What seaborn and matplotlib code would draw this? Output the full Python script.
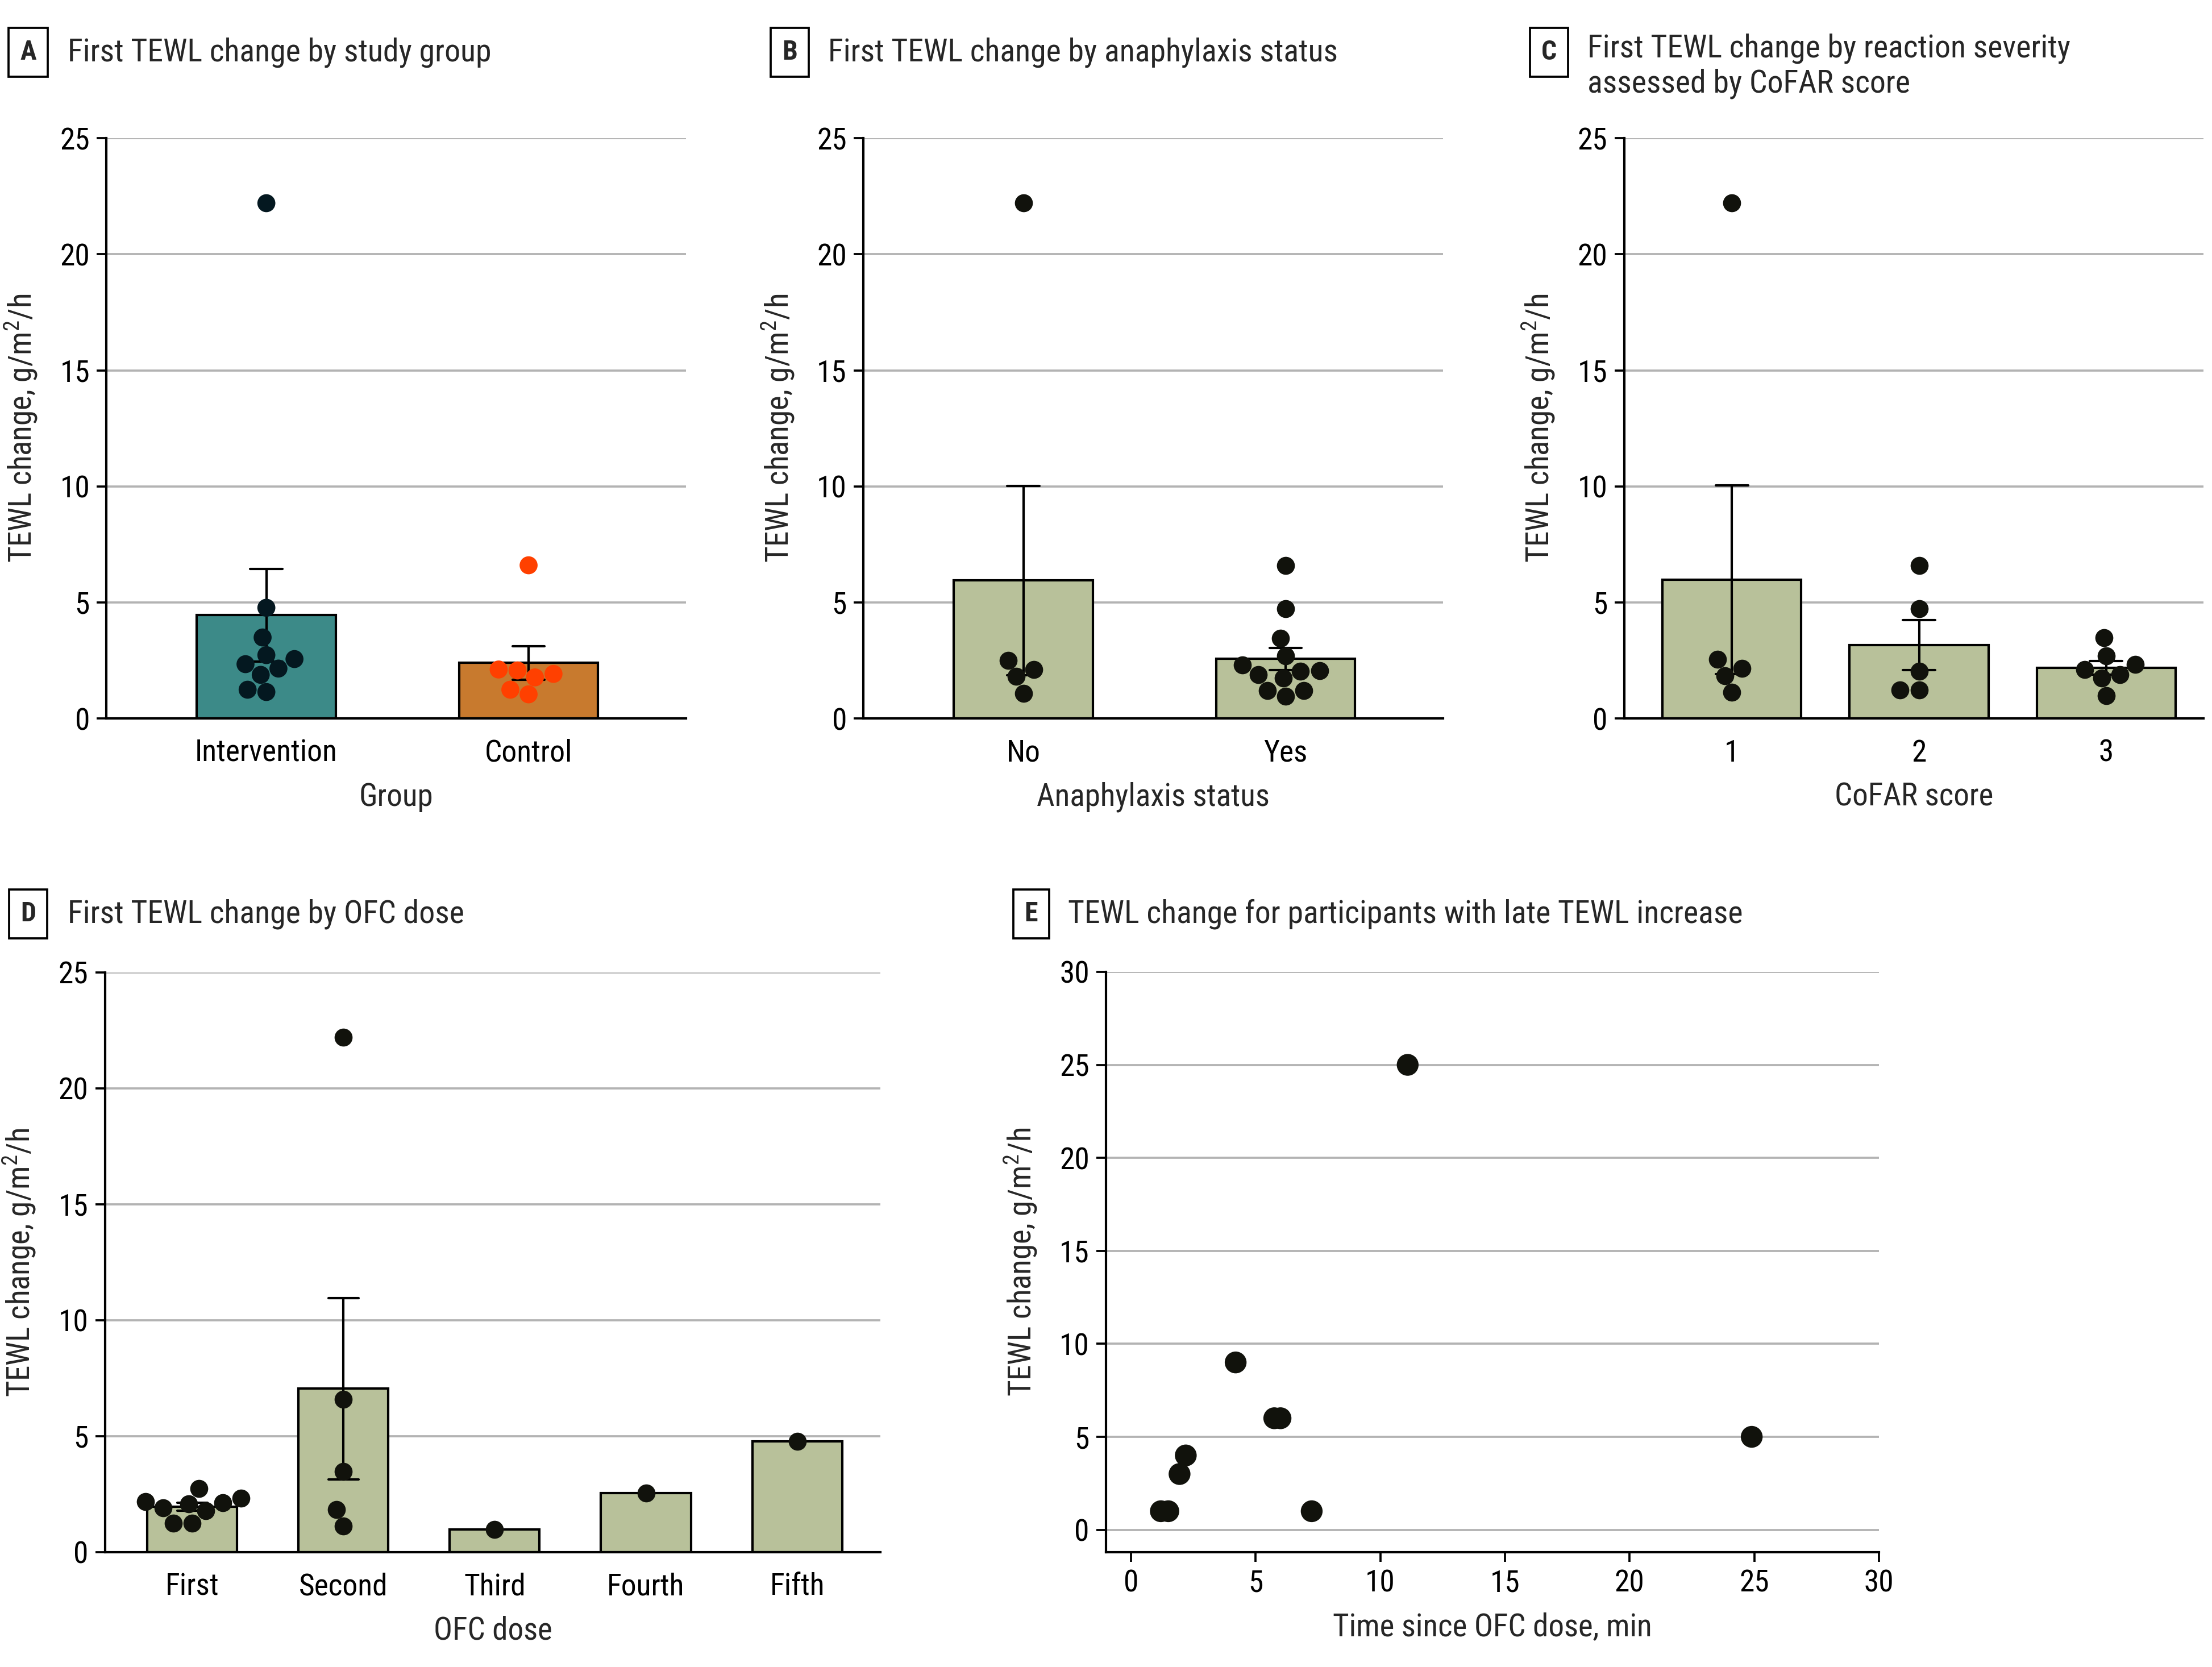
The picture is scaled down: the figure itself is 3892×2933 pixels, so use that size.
import numpy as np
import pandas as pd
import matplotlib
matplotlib.use("Agg")
import matplotlib.pyplot as plt
import seaborn as sns

# data (TEWL change, g/m2/h)
study_groups = ["Intervention", "Control"]
intervention_vals = [22.2, 4.77, 3.49, 2.56, 2.34, 2.15, 1.14, 1.24, 2.73, 1.88]
control_vals = [6.6, 2.11, 2.07, 1.77, 1.92, 1.04, 1.24]

anaph_groups = ["No", "Yes"]
anaph_no_vals = [22.2, 2.51, 1.09, 2.12, 1.81]
anaph_yes_vals = [6.58, 4.72, 3.45, 2.30, 1.73, 0.96, 2.06, 1.20, 2.04, 1.20, 2.70, 1.88]

cofar_groups = ["1", "2", "3"]
cofar1_vals = [22.2, 2.55, 1.12, 2.15, 1.84]
cofar2_vals = [6.58, 4.74, 2.04, 1.23, 1.23]
cofar3_vals = [3.47, 2.34, 1.88, 0.99, 2.10, 2.70, 1.74]

dose_groups = ["First", "Second", "Third", "Fourth", "Fifth"]
dose_first_vals = [2.09, 2.33, 2.74, 2.13, 1.90, 1.78, 2.17, 1.25, 1.25]
dose_second_vals = [22.2, 6.6, 3.47, 1.84, 1.12]
dose_third_vals = [0.98]
dose_fourth_vals = [2.54]
dose_fifth_vals = [4.77]

late_time = [1.2, 1.5, 1.95, 2.2, 4.2, 5.75, 6.0, 7.25, 11.1, 24.9]
late_change = [1, 1, 3, 4, 9, 6, 6, 1, 25, 5]


def long_df(names, lists):
    return pd.DataFrame({
        "grp": [n for n, v in zip(names, lists) for _ in v],
        "val": [x for v in lists for x in v],
    })


dfA = long_df(study_groups, [intervention_vals, control_vals])
dfB = long_df(anaph_groups, [anaph_no_vals, anaph_yes_vals])
dfC = long_df(cofar_groups, [cofar1_vals, cofar2_vals, cofar3_vals])
dfD = long_df(dose_groups, [dose_first_vals, dose_second_vals, dose_third_vals,
                            dose_fourth_vals, dose_fifth_vals])
dfE = pd.DataFrame({"time": late_time, "change": late_change})

sns.set_style("white")
plt.rcParams["font.family"] = ["Roboto Condensed", "Noto Sans Condensed", "Roboto", "DejaVu Sans"]
plt.rcParams["mathtext.default"] = "regular"

BAR_GREEN = "#B8C19A"
DOT = "#11120C"
GRID = "#B3B3B3"
YLAB = "TEWL change, g/m$^{2}$/h"
TICK_FS = 12.8
LABEL_FS = 13.2
TITLE_FS = 13.4

fig = plt.figure(figsize=(3892 / 300, 2933 / 300), dpi=300)


def style_axis(ax, xlabel, yticks):
    ax.set_axisbelow(True)
    ax.yaxis.grid(True, color=GRID, linewidth=0.9)
    ax.xaxis.grid(False)
    for s in ["top", "right"]:
        ax.spines[s].set_visible(False)
    for s in ["left", "bottom"]:
        ax.spines[s].set_color("black")
        ax.spines[s].set_linewidth(1.0)
    ax.set_yticks(yticks)
    ax.tick_params(axis="y", left=True, length=4, width=0.9, pad=3,
                   labelsize=TICK_FS, colors="black")
    ax.set_xlabel(xlabel, fontsize=LABEL_FS, labelpad=6)
    ax.set_ylabel(YLAB, fontsize=LABEL_FS, labelpad=9)


def bar_panel(rect, df, order, xlabel, width, capsize, xlim,
              bar_colors=None, dot_colors=None):
    ax = fig.add_axes(rect)
    if bar_colors is None:
        sns.barplot(data=df, x="grp", y="val", order=order, color=BAR_GREEN,
                    saturation=1, width=width, errorbar="se", capsize=capsize,
                    edgecolor="black", linewidth=1.0,
                    err_kws={"color": "black", "linewidth": 1.0}, ax=ax)
        sns.swarmplot(data=df, x="grp", y="val", order=order, color=DOT,
                      size=7.6, linewidth=0, ax=ax)
    else:
        sns.barplot(data=df, x="grp", y="val", order=order, hue="grp",
                    hue_order=order, palette=bar_colors, legend=False,
                    saturation=1, width=width, errorbar="se", capsize=capsize,
                    edgecolor="black", linewidth=1.0,
                    err_kws={"color": "black", "linewidth": 1.0}, ax=ax)
        sns.swarmplot(data=df, x="grp", y="val", order=order, hue="grp",
                      hue_order=order, palette=dot_colors, legend=False,
                      size=7.6, linewidth=0, ax=ax)
    ax.set_ylim(0, 25)
    ax.set_xlim(*xlim)
    style_axis(ax, xlabel, [0, 5, 10, 15, 20, 25])
    ax.tick_params(axis="x", bottom=False, pad=5, labelsize=TICK_FS, colors="black")
    return ax


# A
bar_panel([0.0481, 0.569, 0.262, 0.3481], dfA, study_groups, "Group",
          0.53, 0.123, (-0.61, 1.60),
          bar_colors=["#3C8A88", "#C87A2E"], dot_colors=["#041820", "#FF4000"])
# B
bar_panel([0.3903, 0.569, 0.262, 0.3481], dfB, anaph_groups, "Anaphylaxis status",
          0.53, 0.123, (-0.61, 1.60))
# C
bar_panel([0.7342, 0.569, 0.262, 0.3481], dfC, cofar_groups, "CoFAR score",
          0.742, 0.173, (-0.576, 2.52))
# D
bar_panel([0.0475, 0.0689, 0.3505, 0.3478], dfD, dose_groups, "OFC dose",
          0.594, 0.2, (-0.576, 4.55))

# E
axE = fig.add_axes([0.5000, 0.0689, 0.3494, 0.3481])
sns.scatterplot(data=dfE, x="time", y="change", s=85, color=DOT,
                edgecolor="none", ax=axE)
axE.set_xlim(-1, 30)
axE.set_ylim(-1.2, 30)
axE.set_xticks([0, 5, 10, 15, 20, 25, 30])
style_axis(axE, "Time since OFC dose, min", [0, 5, 10, 15, 20, 25, 30])
axE.tick_params(axis="x", bottom=True, length=4, width=0.9, pad=3,
                labelsize=TICK_FS, colors="black")

# panel headings
heads = [
    (0.01276, 0.0306, 0.9687, "A", "First TEWL change by study group"),
    (0.3571, 0.3744, 0.9687, "B", "First TEWL change by anaphylaxis status"),
    (0.7003, 0.7175, 0.9687, "C", "First TEWL change by reaction severity\nassessed by CoFAR score"),
    (0.01276, 0.0306, 0.4518, "D", "First TEWL change by OFC dose"),
    (0.4662, 0.4828, 0.4518, "E", "TEWL change for participants with late TEWL increase"),
]
for xb, xt, y, letter, title in heads:
    fig.text(xb, y, letter, fontsize=11.5, fontweight="bold", ha="center", va="center",
             bbox=dict(boxstyle="square,pad=0.42", facecolor="white",
                       edgecolor="black", linewidth=0.9))
    if "\n" in title:
        fig.text(xt, y + 0.0112, title, fontsize=TITLE_FS, ha="left", va="top",
                 linespacing=1.2)
    else:
        fig.text(xt, y, title, fontsize=TITLE_FS, ha="left", va="center")

fig.savefig("out.png", dpi=300)
